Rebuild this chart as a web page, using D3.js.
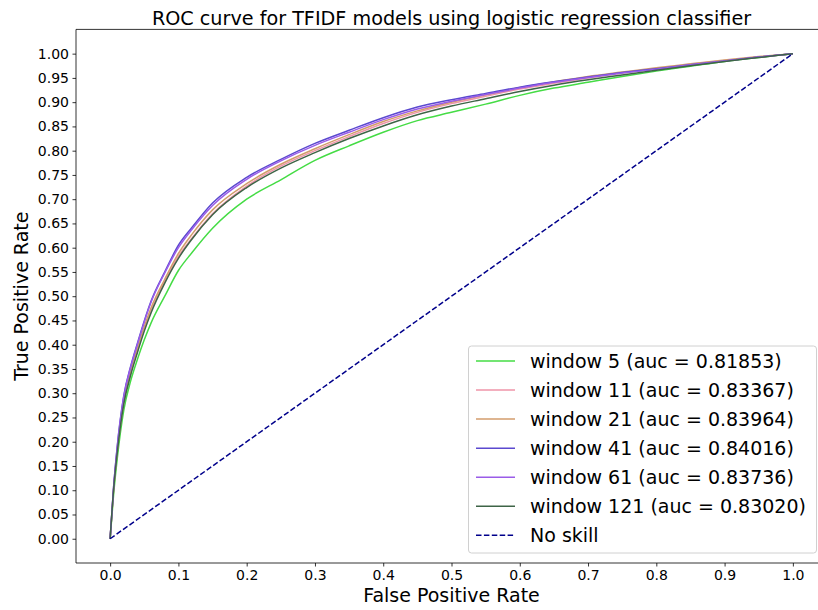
<!DOCTYPE html>
<html>
<head>
<meta charset="utf-8">
<script src="https://cdn.jsdelivr.net/npm/d3@7"></script>
<style>
  body { margin: 0; background: #fff; }
  svg { display: block; font-family: "DejaVu Sans", sans-serif; }
</style>
</head>
<body>
<svg id="chart" width="818" height="610"></svg>
<script>
// False positive rate grid shared by every ROC curve
const fpr = [0, 0.005, 0.01, 0.02, 0.03, 0.04, 0.05, 0.06, 0.08, 0.1, 0.12, 0.15, 0.2, 0.25, 0.3,
             0.35, 0.4, 0.45, 0.5, 0.55, 0.6, 0.65, 0.7, 0.75, 0.8, 0.85, 0.9, 0.95, 1.0];

// True positive rates per context window
const tprWindow5   = [0, 0.09, 0.16, 0.265, 0.325, 0.37, 0.41, 0.445, 0.50, 0.553, 0.59, 0.64, 0.70, 0.74, 0.78,
                      0.81, 0.838, 0.862, 0.879, 0.896, 0.914, 0.929, 0.941, 0.953, 0.964, 0.974, 0.984, 0.992, 1];
const tprWindow11  = [0, 0.1, 0.175, 0.28, 0.34, 0.388, 0.432, 0.47, 0.53, 0.582, 0.62, 0.67, 0.727, 0.768, 0.80,
                      0.829, 0.856, 0.879, 0.897, 0.912, 0.927, 0.939, 0.95, 0.96, 0.969, 0.978, 0.986, 0.993, 1];
const tprWindow21  = [0, 0.1, 0.178, 0.285, 0.345, 0.393, 0.437, 0.476, 0.535, 0.588, 0.628, 0.678, 0.732, 0.772, 0.804,
                      0.833, 0.86, 0.882, 0.9, 0.915, 0.93, 0.942, 0.953, 0.962, 0.971, 0.979, 0.987, 0.994, 1];
const tprWindow41  = [0, 0.105, 0.185, 0.295, 0.355, 0.403, 0.449, 0.49, 0.55, 0.605, 0.642, 0.692, 0.745, 0.782, 0.815,
                      0.842, 0.868, 0.89, 0.905, 0.918, 0.931, 0.942, 0.952, 0.961, 0.969, 0.977, 0.985, 0.993, 1];
const tprWindow61  = [0, 0.105, 0.183, 0.293, 0.353, 0.401, 0.447, 0.488, 0.548, 0.60, 0.638, 0.687, 0.741, 0.779, 0.811,
                      0.838, 0.864, 0.886, 0.902, 0.916, 0.929, 0.941, 0.951, 0.96, 0.968, 0.977, 0.985, 0.993, 1];
const tprWindow121 = [0, 0.1, 0.172, 0.278, 0.337, 0.384, 0.428, 0.466, 0.527, 0.578, 0.618, 0.668, 0.724, 0.764, 0.796,
                      0.825, 0.851, 0.874, 0.892, 0.907, 0.922, 0.935, 0.946, 0.956, 0.966, 0.975, 0.984, 0.992, 1];

const seriesLabels = ["window 5 (auc = 0.81853)", "window 11 (auc = 0.83367)", "window 21 (auc = 0.83964)",
                      "window 41 (auc = 0.84016)", "window 61 (auc = 0.83736)", "window 121 (auc = 0.83020)"];
const seriesColors = ["#45dc45", "#ef94a8", "#d39c6c", "#5b49cf", "#9a5ce8", "#3e6447"];
const seriesTpr = [tprWindow5, tprWindow11, tprWindow21, tprWindow41, tprWindow61, tprWindow121];

const noSkillX = [0, 1];
const noSkillY = [0, 1];
const noSkillLabel = "No skill";
const noSkillColor = "#00008b";

const xTicks = [0, 0.1, 0.2, 0.3, 0.4, 0.5, 0.6, 0.7, 0.8, 0.9, 1.0];
const yTicks = [0, 0.05, 0.1, 0.15, 0.2, 0.25, 0.3, 0.35, 0.4, 0.45, 0.5, 0.55, 0.6, 0.65, 0.7,
                0.75, 0.8, 0.85, 0.9, 0.95, 1.0];

const titleText = "ROC curve for TFIDF models using logistic regression classifier";
const xLabelText = "False Positive Rate";
const yLabelText = "True Positive Rate";

// Plot frame
const frameLeft = 76, frameRight = 827, frameTop = 29.4, frameBottom = 563;

const svg = d3.select("#chart");
const x = d3.scaleLinear().domain([-0.05, 1.05]).range([frameLeft, frameRight]);
const y = d3.scaleLinear().domain([-0.05, 1.05]).range([frameBottom, frameTop]);

svg.append("defs").append("clipPath").attr("id", "plotClip")
  .append("rect").attr("x", frameLeft).attr("y", frameTop)
  .attr("width", frameRight - frameLeft).attr("height", frameBottom - frameTop);

const plot = svg.append("g").attr("clip-path", "url(#plotClip)");

const line = d3.line()
  .x(d => x(d[0]))
  .y(d => y(d[1]))
  .curve(d3.curveMonotoneX);

seriesTpr.forEach((tpr, i) => {
  plot.append("path")
    .datum(fpr.map((f, j) => [f, tpr[j]]))
    .attr("fill", "none")
    .attr("stroke", seriesColors[i])
    .attr("stroke-width", 1.5)
    .attr("stroke-linejoin", "round")
    .attr("d", line);
});

plot.append("path")
  .datum(noSkillX.map((v, j) => [v, noSkillY[j]]))
  .attr("fill", "none")
  .attr("stroke", noSkillColor)
  .attr("stroke-width", 1.5)
  .attr("stroke-dasharray", "5.5,2.4")
  .attr("d", d3.line().x(d => x(d[0])).y(d => y(d[1])));

// Axes
const xAxis = d3.axisBottom(x).tickValues(xTicks).tickFormat(d3.format(".1f"))
  .tickSize(3.5).tickPadding(3.5).tickSizeOuter(0);
const yAxis = d3.axisLeft(y).tickValues(yTicks).tickFormat(d3.format(".2f"))
  .tickSize(3.5).tickPadding(3.5).tickSizeOuter(0);

const gx = svg.append("g").attr("transform", `translate(0,${frameBottom})`).call(xAxis);
const gy = svg.append("g").attr("transform", `translate(${frameLeft},0)`).call(yAxis);
[gx, gy].forEach(g => {
  g.select(".domain").remove();
  g.selectAll(".tick line").attr("stroke", "#000").attr("stroke-width", 0.8);
  g.selectAll(".tick text").attr("fill", "#000").style("font-size", "14px")
    .style("font-family", "'DejaVu Sans', sans-serif");
});

// Spines
const spines = svg.append("g").attr("stroke", "#000").attr("stroke-width", 0.8);
spines.append("line").attr("x1", frameLeft).attr("x2", frameLeft).attr("y1", frameTop).attr("y2", frameBottom);
spines.append("line").attr("x1", frameLeft).attr("x2", frameRight).attr("y1", frameBottom).attr("y2", frameBottom);
spines.append("line").attr("x1", frameLeft).attr("x2", frameRight).attr("y1", frameTop).attr("y2", frameTop);
spines.append("line").attr("x1", frameRight).attr("x2", frameRight).attr("y1", frameTop).attr("y2", frameBottom);

// Title and axis labels
const cx = (frameLeft + frameRight) / 2;
svg.append("text").attr("x", cx).attr("y", 25).attr("text-anchor", "middle")
  .style("font-size", "19.2px").attr("fill", "#000").text(titleText);
svg.append("text").attr("x", cx).attr("y", 602).attr("text-anchor", "middle")
  .style("font-size", "19px").attr("fill", "#000").text(xLabelText);
svg.append("text").attr("transform", `translate(28,${(frameTop + frameBottom) / 2}) rotate(-90)`)
  .attr("text-anchor", "middle")
  .style("font-size", "19px").attr("fill", "#000").text(yLabelText);

// Legend
const legendItems = seriesLabels.map((t, i) => ({ label: t, color: seriesColors[i], dashed: false }))
  .concat([{ label: noSkillLabel, color: noSkillColor, dashed: true }]);
const legend = svg.append("g");
legend.append("rect")
  .attr("x", 468.5).attr("y", 346).attr("width", 348).attr("height", 207)
  .attr("rx", 3).attr("fill", "#fff").attr("fill-opacity", 0.8)
  .attr("stroke", "#d0d0d0").attr("stroke-width", 1);
legendItems.forEach((it, i) => {
  const ry = 361 + i * 29.05;
  legend.append("line")
    .attr("x1", 476).attr("x2", 515).attr("y1", ry).attr("y2", ry)
    .attr("stroke", it.color).attr("stroke-width", 1.5)
    .attr("stroke-dasharray", it.dashed ? "5.5,2.4" : null);
  legend.append("text")
    .attr("x", 530).attr("y", ry).attr("dy", "0.35em")
    .style("font-size", "19px").attr("fill", "#000").text(it.label);
});
</script>
</body>
</html>
